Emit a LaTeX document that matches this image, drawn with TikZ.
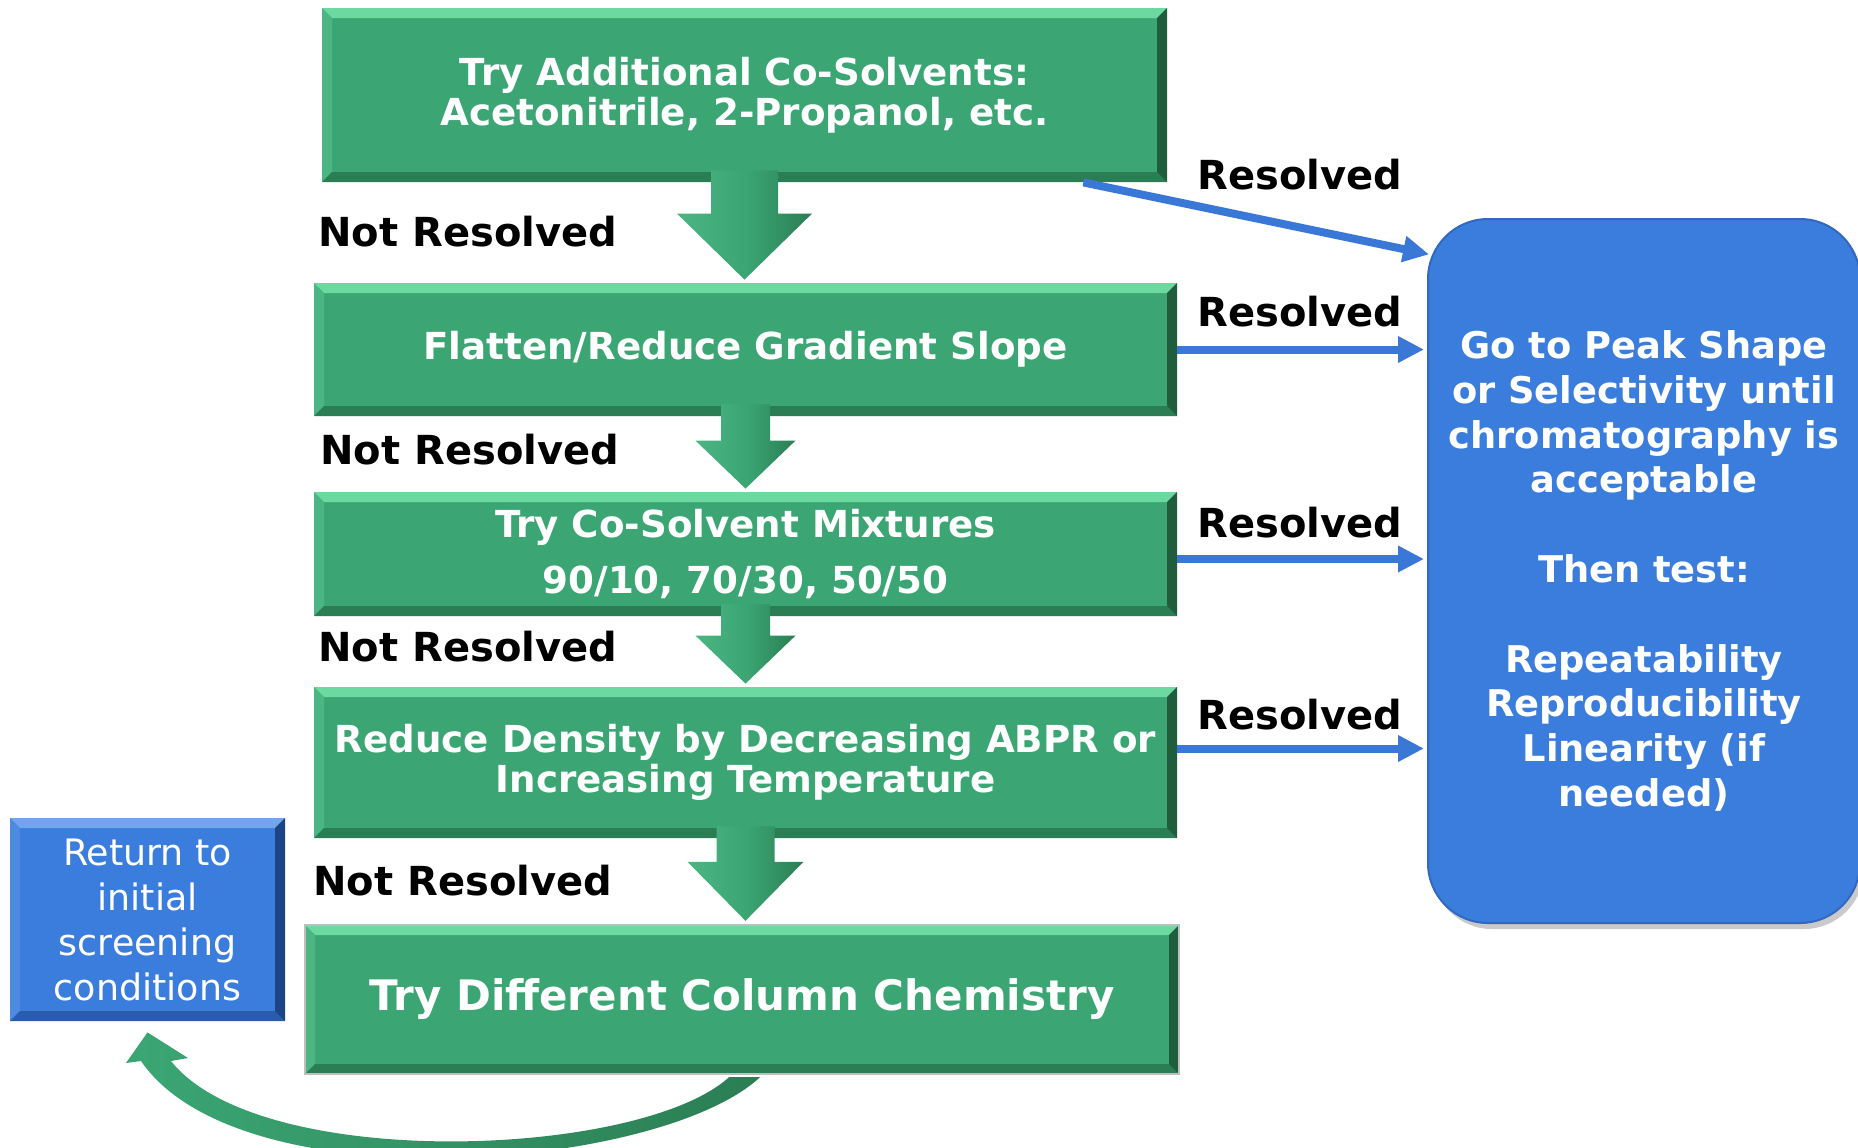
\documentclass[tikz,border=0pt]{standalone}
\usepackage{fontspec}
\setmainfont{DejaVu Sans}
\usetikzlibrary{arrows.meta,calc,shadows}
\definecolor{gmain}{HTML}{3BA674}
\definecolor{glight}{HTML}{6BD9A0}
\definecolor{gleft}{HTML}{4BB682}
\definecolor{gdark}{HTML}{2B7E54}
\definecolor{gdarker}{HTML}{1F5D3D}
\definecolor{bmain}{HTML}{3B7DDD}
\definecolor{blight}{HTML}{72A5EE}
\definecolor{bleft}{HTML}{4E8AE2}
\definecolor{bdark}{HTML}{2A5CAE}
\definecolor{bdarker}{HTML}{1D4485}
\definecolor{arrowblue}{HTML}{3A78D8}
\newcommand\greenarrow[5]{%
  \shade[left color=gleft, right color=gdark, middle color=gmain]
    let \p1=(#1.south), \p2=(#2.north) in
    (\x1-#3,\y1+6pt) -- (\x1+#3,\y1+6pt) -- (\x1+#3,\y2+1.5pt+#5) -- (\x1+#4,\y2+1.5pt+#5)
    -- (\x1,\y2+1.5pt) -- (\x1-#4,\y2+1.5pt+#5) -- (\x1-#3,\y2+1.5pt+#5) -- cycle;}
\tikzset{
  bevel/.style n args={5}{fill=#1, path picture={
    \path (path picture bounding box.north west) coordinate (pNW)
          (path picture bounding box.north east) coordinate (pNE)
          (path picture bounding box.south west) coordinate (pSW)
          (path picture bounding box.south east) coordinate (pSE);
    \fill[#2] (pNW) -- (pNE) -- ([shift={(-5pt,-5pt)}]pNE) -- ([shift={(5pt,-5pt)}]pNW) -- cycle;
    \fill[#3] (pNW) -- ([shift={(5pt,-5pt)}]pNW) -- ([shift={(5pt,5pt)}]pSW) -- (pSW) -- cycle;
    \fill[#4] (pSW) -- (pSE) -- ([shift={(-5pt,5pt)}]pSE) -- ([shift={(5pt,5pt)}]pSW) -- cycle;
    \fill[#5] (pNE) -- (pSE) -- ([shift={(-5pt,5pt)}]pSE) -- ([shift={(-5pt,-5pt)}]pNE) -- cycle;
  }},
  greenbox/.style={bevel={gmain}{glight}{gleft}{gdark}{gdarker}, text=white, inner sep=0pt,
    align=center, font=\fontsize{18.6pt}{20pt}\selectfont\bfseries},
  bluebox/.style={bevel={bmain}{blight}{bleft}{bdark}{bdarker}, text=white, inner sep=0pt,
    align=center, font=\fontsize{18.2pt}{22.5pt}\selectfont},
  goalbox/.style={fill=bmain, draw=bdark!60!bmain, line width=1pt, rounded corners=30pt,
    text=white, inner sep=0pt, align=center,
    font=\fontsize{18.4pt}{22.4pt}\selectfont\bfseries,
    drop shadow={shadow xshift=2pt, shadow yshift=-3pt, opacity=0.35, fill=black!60}},
  lbl/.style={anchor=west, inner sep=0pt, text=black, font=\fontsize{20pt}{24pt}\selectfont\bfseries},
  resarrow/.style={draw=arrowblue, line width=4pt, shorten >=1.5pt, -{Triangle[length=13pt,width=12.5pt]}}
}
\begin{document}
\begin{tikzpicture}[x=0.5pt, y=-0.5pt]
\useasboundingbox (0,0) rectangle (1858,1147);
% goal box
\node[goalbox, minimum width=216pt, minimum height=352pt] (goal) at (1644,571)
  {Go to Peak Shape\\or Selectivity until\\chromatography is\\acceptable\\[22.4pt]Then test:\\[22.4pt]Repeatability\\Reproducibility\\Linearity (if\\needed)};
% green boxes
\node[greenbox, minimum width=422.5pt, minimum height=87pt] (b1) at (744.5,95)
  {Try Additional Co-Solvents:\\Acetonitrile, 2-Propanol, etc.};
\node[greenbox, minimum width=431.5pt, minimum height=66.5pt] (b2) at (745.5,349.5)
  {Flatten/Reduce Gradient Slope};
\node[greenbox, minimum width=431.5pt, minimum height=62pt, font=\fontsize{18.6pt}{28pt}\selectfont\bfseries] (b3) at (745.5,554)
  {Try Co-Solvent Mixtures\\90/10, 70/30, 50/50};
\node[greenbox, minimum width=431.5pt, minimum height=75.5pt] (b4) at (745.5,762.5)
  {Reduce Density by Decreasing ABPR or\\Increasing Temperature};
\node[greenbox, draw=black!25, line width=1.2pt, minimum width=437pt, minimum height=74.5pt,
  font=\fontsize{21pt}{24pt}\selectfont\bfseries] (b5) at (742,999.5)
  {Try Different Column Chemistry};
% return box
\node[bluebox, minimum width=137.5pt, minimum height=101.5pt] (ret) at (147.5,919.5)
  {Return to\\initial\\screening\\conditions};
% block arrows
\greenarrow{b1}{b2}{16.75pt}{33.75pt}{33pt}
\greenarrow{b2}{b3}{12.25pt}{25pt}{24pt}
\greenarrow{b3}{b4}{12.25pt}{25pt}{24pt}
\greenarrow{b4}{b5}{14.5pt}{29pt}{29.5pt}
% resolved arrows
\draw[resarrow] ([xshift=-42pt]b1.south east) -- ([shift={(2.5pt,-18.5pt)}]goal.north west);
\draw[resarrow] (b2.east) -- (b2.east -| goal.west);
\draw[resarrow] ([yshift=-2.5pt]b3.east) -- ([yshift=-2.5pt]b3.east -| goal.west);
\draw[resarrow] ([yshift=7pt]b4.east) -- ([yshift=7pt]b4.east -| goal.west);
% labels
\node[lbl] (nr1) at (318,232) {Not Resolved};
\node[lbl] (nr2) at (320,450) {Not Resolved};
\node[lbl] (nr3) at (318,647) {Not Resolved};
\node[lbl] (nr4) at (313,881) {Not Resolved};
\node[lbl] (rs1) at (1197,175) {Resolved};
\node[lbl] (rs2) at (1197,312) {Resolved};
\node[lbl] (rs3) at (1197,523) {Resolved};
\node[lbl] (rs4) at (1197,715) {Resolved};
% curved return arrow
\shade[left color=gmain, right color=gdark]
  ($(b5.south)+(18,2)$) .. controls (660,1170) and (240,1205) .. (141,1061)
  -- (126,1063) -- ($(ret.south)+(0,11)$) -- (188,1058) -- (171,1061)
  .. controls (260,1173) and (640,1158) .. ($(b5.south)+(-13,2)$) -- cycle;
\end{tikzpicture}
\end{document}
